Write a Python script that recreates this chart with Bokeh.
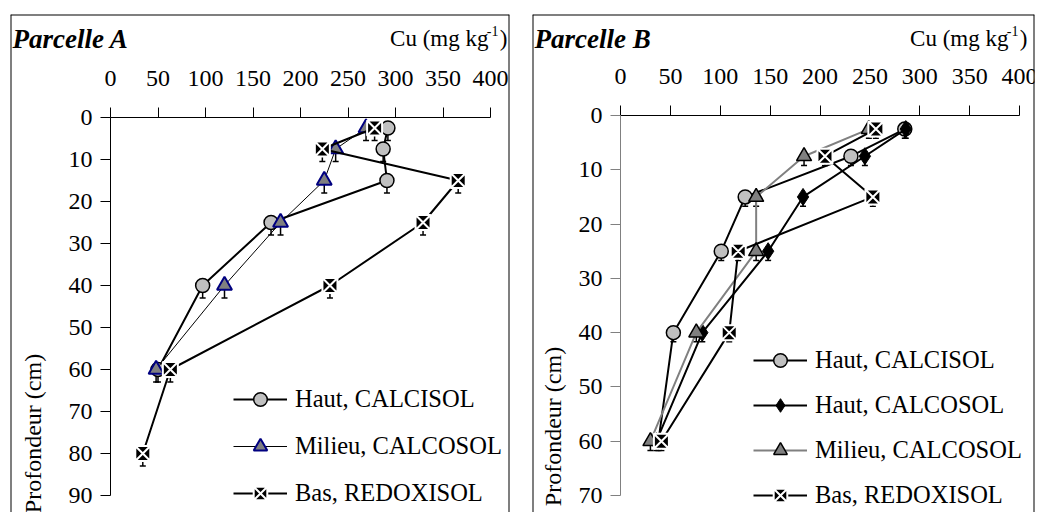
import math
from bokeh.plotting import figure
from bokeh.models import (Range1d, LinearAxis, FixedTicker, Label, Legend, LegendItem,
                          Span, Whisker, ColumnDataSource, TeeHead)
from bokeh.layouts import row
from bokeh.embed import file_html
from bokeh.resources import INLINE

# ---------------- data ----------------
x_ticks = [0, 50, 100, 150, 200, 250, 300, 350, 400]

depth_A = [2.5, 7.5, 15, 25, 40, 60]
depth_A_bas = [2.5, 7.5, 15, 25, 40, 60, 80]
cu_A_haut_calcisol = [292, 287, 291, 169, 97, 50]
cu_A_milieu_calcosol = [269, 237, 225, 179, 120, 48]
cu_A_bas_redoxisol = [278, 223, 366, 329, 231, 63, 34]
y_ticks_A = [0, 10, 20, 30, 40, 50, 60, 70, 80, 90]
err_A = 3.0

depth_B = [2.5, 7.5, 15, 25, 40, 60]
cu_B_haut_calcisol = [285, 231, 125, 101, 53, 38]
cu_B_haut_calcosol = [286, 245, 183, 148, 82, 36]
cu_B_milieu_calcosol = [249, 184, 136, 136, 76, 30]
cu_B_bas_redoxisol = [256, 205, 253, 118, 109, 41]
y_ticks_B = [0, 10, 20, 30, 40, 50, 60, 70]
err_B = 1.7

FONT = "Liberation Serif"
FS_TICK = "24px"
FS_LEG = "24.5px"
FS = "23px"


def make_panel(title, width, ml, mr, xr, yr, y_ticks, y_axis_color, series, err,
               legend_loc, legend_spacing, label_pos):
    p = figure(width=width, height=512, x_range=Range1d(*xr), y_range=Range1d(*yr),
               output_backend="svg", toolbar_location=None,
               x_axis_location=None, y_axis_location=None,
               min_border_left=ml, min_border_right=mr, min_border_top=14, min_border_bottom=0)
    p.outline_line_color = None
    p.grid.visible = False

    xax = LinearAxis(fixed_location=0, ticker=FixedTicker(ticks=x_ticks), bounds=(0, 400),
                     major_tick_out=10, major_tick_in=0, minor_tick_out=0, minor_tick_in=0,
                     major_label_standoff=22, major_label_text_font=FONT,
                     major_label_text_font_size=FS_TICK, major_label_text_color="black",
                     axis_line_color="black", major_tick_line_color="black")
    p.add_layout(xax, "above")
    yax = LinearAxis(fixed_location=0, ticker=FixedTicker(ticks=y_ticks),
                     bounds=(0, y_ticks[-1]),
                     major_tick_out=10, major_tick_in=0, minor_tick_out=0, minor_tick_in=0,
                     major_label_standoff=8, major_label_text_font=FONT,
                     major_label_text_font_size=FS_TICK, major_label_text_color="black",
                     axis_line_color=y_axis_color, major_tick_line_color=y_axis_color)
    p.add_layout(yax, "left")

    # box around the panel
    for loc, dim in ((xr[0], "height"), (xr[1], "height"), (yr[1], "width")):
        p.add_layout(Span(location=loc, dimension=dim, line_color="black", line_width=2))

    items = []
    for s in series:
        src = ColumnDataSource(dict(x=s["x"], y=s["y"],
                                    up=[v + err for v in s["y"]]))
        wk = Whisker(base="x", lower="y", upper="up", dimension="height", source=src,
                     line_color="black", line_width=1.5,
                     upper_head=TeeHead(size=6, line_color="black", line_width=1.5),
                     lower_head=None, level="underlay")
        p.add_layout(wk)
        ln = p.line("x", "y", source=src, line_color=s["lc"], line_width=s["lw"])
        sc = p.scatter("x", "y", source=src, marker=s["marker"], size=s["size"],
                       fill_color=s["fc"], line_color=s["mlc"], line_width=s["mlw"])
        items.append(LegendItem(label=s["label"], renderers=[ln, sc]))

    legend = Legend(items=items, location=legend_loc, orientation="vertical",
                    background_fill_alpha=0, border_line_color=None, padding=0, margin=0,
                    spacing=legend_spacing, glyph_width=54, glyph_height=34, label_height=34,
                    label_standoff=8, label_text_font=FONT, label_text_font_size=FS_LEG,
                    label_text_color="black")
    p.add_layout(legend)

    fh = 498
    p.add_layout(Label(x=2, y=fh - 24, x_units="screen", y_units="screen", text=title,
                       text_font=FONT, text_font_style="bold italic", text_font_size="27px",
                       text_align="left", text_baseline="middle", text_color="black"))
    cx = label_pos[0]
    p.add_layout(Label(x=cx, y=fh - 24, x_units="screen", y_units="screen", text="Cu (mg kg",
                       text_font=FONT, text_font_size=FS, text_align="right",
                       text_baseline="middle", text_color="black"))
    p.add_layout(Label(x=cx + 10, y=fh - 16, x_units="screen", y_units="screen", text="-1",
                       text_font=FONT, text_font_size="14px", text_align="right",
                       text_baseline="middle", text_color="black"))
    p.add_layout(Label(x=cx + 19, y=fh - 24, x_units="screen", y_units="screen", text=")",
                       text_font=FONT, text_font_size=FS, text_align="right",
                       text_baseline="middle", text_color="black"))
    p.add_layout(Label(x=label_pos[1], y=label_pos[2], x_units="screen", y_units="screen",
                       text="Profondeur (cm)", angle=math.pi / 2,
                       text_font=FONT, text_font_size="24px", text_align="center",
                       text_baseline="middle", text_color="black"))
    return p


series_A = [
    dict(label="Haut, CALCISOL", x=cu_A_haut_calcisol, y=depth_A, lc="black", lw=2,
         marker="circle", size=14, fc="#c0c0c0", mlc="black", mlw=1.5),
    dict(label="Milieu, CALCOSOL", x=cu_A_milieu_calcosol, y=depth_A, lc="black", lw=1,
         marker="triangle", size=15, fc="#808080", mlc="#000080", mlw=2),
    dict(label="Bas, REDOXISOL", x=cu_A_bas_redoxisol, y=depth_A_bas, lc="black", lw=2,
         marker="square_x", size=15, fc="black", mlc="white", mlw=2),
]

series_B = [
    dict(label="Haut, CALCISOL", x=cu_B_haut_calcisol, y=depth_B, lc="black", lw=2,
         marker="circle", size=14, fc="#c0c0c0", mlc="black", mlw=1.5),
    dict(label="Haut, CALCOSOL", x=cu_B_haut_calcosol, y=depth_B, lc="black", lw=2,
         marker="diamond", size=17, fc="black", mlc="black", mlw=1),
    dict(label="Milieu, CALCOSOL", x=cu_B_milieu_calcosol, y=depth_B, lc="#808080", lw=2,
         marker="triangle", size=15, fc="#808080", mlc="black", mlw=1.5),
    dict(label="Bas, REDOXISOL", x=cu_B_bas_redoxisol, y=depth_B, lc="black", lw=2,
         marker="square_x", size=15, fc="black", mlc="white", mlw=2),
]

# panel A: frame page x 10..509, y 14..512 ; 0.95 px per unit x, 4.2 px per unit y
xa0 = -100 / 0.95
pA = make_panel("Parcelle A", 520, 10, 11, (xa0, xa0 + 499 / 0.95), (395 / 4.2, -103 / 4.2),
                y_ticks_A, "black", series_A, err_A, (223, 2), 13, (478, 22, 79))
# panel B: frame page x 532..1034 ; 0.9975 px per unit x, 5.4286 px per unit y
sxB = 399 / 400
syB = 380 / 70
xb0 = -88 / sxB
pB = make_panel("Parcelle B", 518, 12, 4, (xb0, xb0 + 502 / sxB), (397 / syB, -101 / syB),
                y_ticks_B, "#808080", series_B, err_B, (221, 0), 11, (476, 20, 86))

layout = row(pA, pB)
open("out.html", "w").write(file_html(layout, INLINE))
